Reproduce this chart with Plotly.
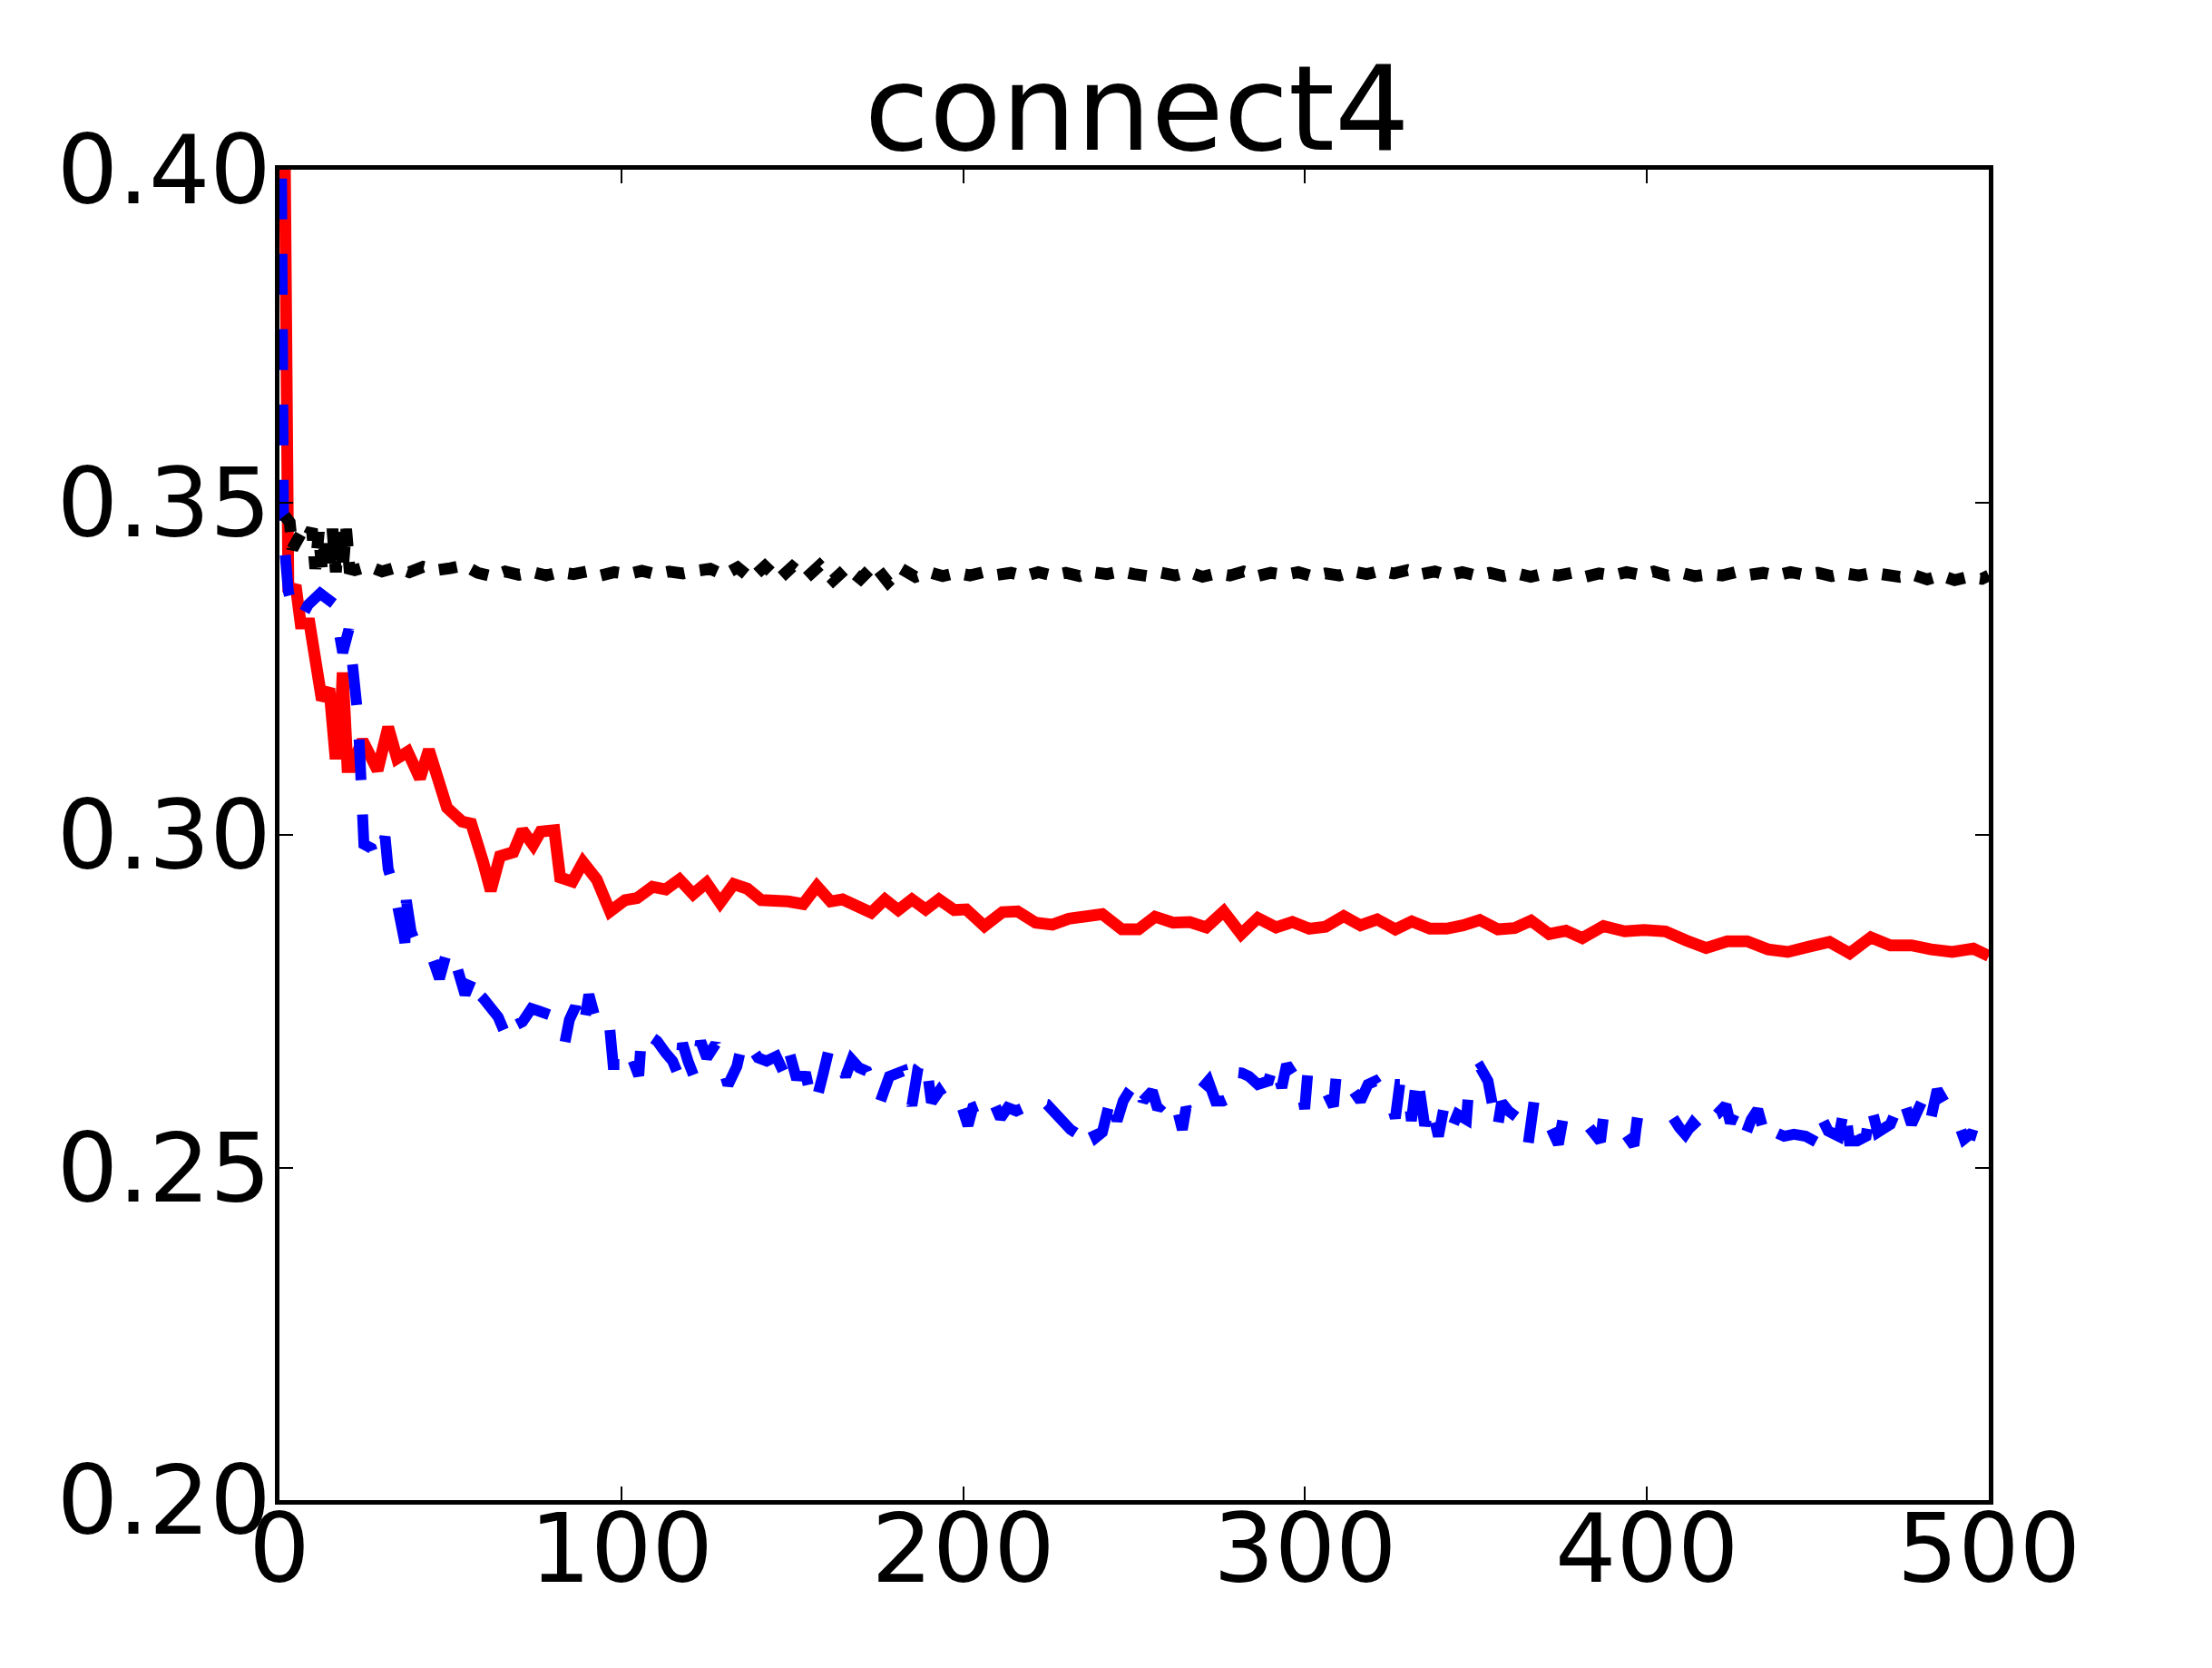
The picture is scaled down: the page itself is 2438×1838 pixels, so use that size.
import plotly.graph_objects as go

# ---- data ----
red_x = [0.8, 1.8, 2.6, 4.9, 6.2, 8.8, 10.6, 12.4, 14.6, 16.3, 17.4, 18.5, 19.9, 21.0, 24.3, 28.7,
         31.8, 34.4, 37.5, 41.1, 43.7, 49.0, 53.4, 56.1, 59.6, 61.8, 64.5, 68.4, 71.1, 74.2, 76.4,
         80.4, 82.1, 85.7, 88.8, 92.8, 96.7, 101.1, 104.6, 109.1, 113.0, 117.0, 121.0, 124.9, 128.9,
         132.9, 136.9, 140.9, 148.8, 153.2, 157.2, 161.2, 164.7, 169.1, 173.1, 177.1, 181.0, 185.0,
         189.0, 192.9, 197.4, 200.9, 206.2, 211.5, 215.9, 221.2, 226.1, 230.9, 236.2, 240.7, 246.4,
         251.3, 256.1, 261.4, 266.3, 271.1, 276.2, 281.3, 286.2, 291.5, 296.3, 301.2, 306.0, 311.3,
         316.2, 321.1, 326.4, 331.2, 336.5, 341.4, 346.2, 351.1, 356.4, 361.3, 366.1, 371.4, 376.3,
         381.1, 387.3, 393.5, 399.2, 405.4, 411.6, 417.3, 423.5, 429.3, 435.4, 441.2, 447.4, 453.4,
         459.3, 465.5, 471.2, 477.4, 483.1, 489.3, 495.5, 500.0]
red_y = [0.4500, 0.3406, 0.3372, 0.3369, 0.3318, 0.3318, 0.3257, 0.3203, 0.3220, 0.3122, 0.3122,
         0.3244, 0.3102, 0.3102, 0.3142, 0.3097, 0.3162, 0.3115, 0.3125, 0.3085, 0.3128, 0.3041,
         0.3020, 0.3017, 0.2959, 0.2916, 0.2968, 0.2974, 0.3007, 0.2985, 0.3005, 0.3007, 0.2936,
         0.2930, 0.2959, 0.2933, 0.2885, 0.2902, 0.2905, 0.2922, 0.2918, 0.2933, 0.2911, 0.2928,
         0.2898, 0.2926, 0.2919, 0.2902, 0.2900, 0.2896, 0.2923, 0.2900, 0.2903, 0.2890, 0.2883,
         0.2903, 0.2887, 0.2903, 0.2888, 0.2903, 0.2887, 0.2888, 0.2863, 0.2884, 0.2885, 0.2868,
         0.2865, 0.2874, 0.2880, 0.2881, 0.2858, 0.2858, 0.2877, 0.2868, 0.2869, 0.2861, 0.2885,
         0.2851, 0.2875, 0.2861, 0.2869, 0.2859, 0.2862, 0.2878, 0.2864, 0.2873, 0.2858, 0.2870,
         0.2859, 0.2859, 0.2864, 0.2872, 0.2858, 0.2860, 0.2871, 0.2851, 0.2856, 0.2845, 0.2863,
         0.2855, 0.2857, 0.2855, 0.2841, 0.2830, 0.2840, 0.2840, 0.2828, 0.2824, 0.2832, 0.2839,
         0.2822, 0.2846, 0.2834, 0.2834, 0.2828, 0.2824, 0.2829, 0.2818]

blue_x = [0.5, 0.8, 1.2, 2.6, 4.0, 6.2, 8.4, 11.9, 14.0, 16.3, 17.2, 18.5, 20.3, 21.6, 23.0, 23.7,
          24.3, 24.7, 26.9, 28.3, 30.9, 31.8, 33.5, 35.0, 36.7, 37.1, 38.5, 40.0, 41.9, 44.0, 46.8,
          49.0, 50.5, 51.7, 54.3, 57.0, 57.5, 59.5, 62.0, 64.0, 67.1, 68.4, 71.1, 73.7, 76.0, 78.5,
          80.8, 83.5, 84.8, 86.6, 87.5, 89.0, 90.5, 92.5, 94.5, 96.3, 97.6, 100.3, 102.0, 103.5,
          105.1, 106.0, 108.2, 110.5, 113.0, 115.0, 117.0, 117.9, 119.5, 121.4, 123.2, 125.0, 127.6,
          129.8, 131.2, 133.8, 135.6, 138.2, 140.0, 142.5, 145.3, 148.4, 149.3, 151.0, 154.1, 155.9,
          157.5, 159.0, 160.8, 163.0, 165.6, 167.4, 169.5, 171.8, 175.7, 178.4, 180.5, 182.4, 185.0,
          186.8, 189.0, 190.7, 193.0, 194.8, 196.5, 199.2, 201.4, 202.8, 204.3, 206.1, 208.7, 210.9,
          213.0, 215.5, 217.7, 219.5, 222.1, 224.5, 227.0, 229.5, 231.4, 233.5, 235.9, 237.2, 238.8,
          240.7, 243.4, 245.0, 246.8, 248.6, 251.3, 252.6, 255.3, 256.9, 258.8, 260.9, 262.5, 264.1,
          265.2, 266.3, 267.7, 269.5, 271.7, 273.8, 276.0, 278.2, 279.6, 281.5, 283.6, 286.2, 289.3,
          291.0, 293.2, 294.6, 296.5, 298.1, 299.9, 300.8, 303.0, 305.2, 308.3, 309.2, 311.5, 313.5,
          316.2, 318.4, 320.5, 322.5, 324.5, 326.4, 327.7, 330.0, 331.1, 332.8, 335.0, 336.8, 339.0,
          340.8, 343.0, 344.6, 347.2, 348.2, 351.3, 353.5, 356.2, 357.5, 359.5, 362.1, 365.2, 367.0,
          369.0, 371.0, 374.1, 375.4, 377.5, 380.0, 382.0, 383.8, 386.4, 387.3, 389.1, 391.5, 394.0,
          396.2, 397.0, 399.5, 401.5, 404.5, 407.6, 409.5, 411.2, 413.4, 416.5, 418.2, 420.5, 423.1,
          424.4, 426.2, 428.9, 430.5, 432.4, 435.1, 437.5, 440.1, 443.0, 446.4, 450.0, 450.9, 453.0,
          456.1, 457.9, 459.2, 461.5, 464.1, 465.5, 467.5, 469.5, 471.2, 474.7, 477.4, 480.5, 482.7,
          484.9, 486.5, 488.5, 490.2, 492.8, 494.5, 496.4]
blue_y = [0.4100, 0.3700, 0.3450, 0.3366, 0.3339, 0.3325, 0.3346, 0.3363, 0.3355, 0.3346, 0.3312,
          0.3274, 0.3309, 0.3254, 0.3176, 0.3100, 0.3048, 0.2986, 0.2980, 0.2960, 0.2997, 0.2949,
          0.2920, 0.2880, 0.2838, 0.2902, 0.2855, 0.2835, 0.2827, 0.2826, 0.2784, 0.2825, 0.2800,
          0.2805, 0.2760, 0.2793, 0.2765, 0.2755, 0.2740, 0.2726, 0.2688, 0.2712, 0.2719, 0.2739,
          0.2735, 0.2728, 0.2726, 0.2688, 0.2722, 0.2742, 0.2710, 0.2712, 0.2760, 0.2722, 0.2720,
          0.2727, 0.2655, 0.2655, 0.2680, 0.2660, 0.2638, 0.2706, 0.2700, 0.2690, 0.2672, 0.2660,
          0.2635, 0.2687, 0.2660, 0.2635, 0.2690, 0.2665, 0.2686, 0.2638, 0.2624, 0.2652, 0.2693,
          0.2679, 0.2665, 0.2660, 0.2667, 0.2633, 0.2670, 0.2638, 0.2637, 0.2594, 0.2610, 0.2640,
          0.2679, 0.2668, 0.2637, 0.2662, 0.2650, 0.2645, 0.2598, 0.2637, 0.2640, 0.2645, 0.2593,
          0.2650, 0.2665, 0.2598, 0.2615, 0.2600, 0.2588, 0.2598, 0.2563, 0.2590, 0.2593, 0.2580,
          0.2601, 0.2574, 0.2590, 0.2585, 0.2590, 0.2580, 0.2598, 0.2595, 0.2580, 0.2565, 0.2557,
          0.2550, 0.2540, 0.2563, 0.2545, 0.2553, 0.2610, 0.2570, 0.2600, 0.2615, 0.2633, 0.2600,
          0.2615, 0.2588, 0.2598, 0.2610, 0.2590, 0.2557, 0.2590, 0.2580, 0.2606, 0.2615, 0.2630,
          0.2600, 0.2600, 0.2605, 0.2643, 0.2642, 0.2637, 0.2625, 0.2630, 0.2659, 0.2620, 0.2655,
          0.2640, 0.2640, 0.2588, 0.2643, 0.2640, 0.2625, 0.2592, 0.2643, 0.2640, 0.2620, 0.2600,
          0.2625, 0.2630, 0.2615, 0.2610, 0.2574, 0.2625, 0.2625, 0.2570, 0.2641, 0.2563, 0.2595,
          0.2547, 0.2595, 0.2560, 0.2580, 0.2572, 0.2640, 0.2650, 0.2630, 0.2557, 0.2598, 0.2585,
          0.2575, 0.2533, 0.2600, 0.2590, 0.2570, 0.2535, 0.2572, 0.2560, 0.2565, 0.2568, 0.2556,
          0.2539, 0.2577, 0.2562, 0.2560, 0.2549, 0.2533, 0.2567, 0.2565, 0.2560, 0.2570, 0.2575,
          0.2560, 0.2550, 0.2567, 0.2550, 0.2575, 0.2580, 0.2594, 0.2567, 0.2587, 0.2550, 0.2572,
          0.2587, 0.2537, 0.2553, 0.2547, 0.2550, 0.2547, 0.2537, 0.2577, 0.2555, 0.2547, 0.2594,
          0.2540, 0.2540, 0.2547, 0.2594, 0.2553, 0.2560, 0.2565, 0.2607, 0.2565, 0.2600, 0.2565,
          0.2617, 0.2600, 0.2585, 0.2580, 0.2543, 0.2550, 0.2547]

black_x = [1.5, 3.0, 3.8, 5.0, 6.5, 8.0, 9.5, 10.5, 11.5, 12.5, 13.5, 14.5, 15.5, 16.5, 17.5, 18.5,
           19.5, 20.5, 22, 26, 30, 34, 38, 42, 46, 50, 54, 58, 62, 66, 70, 74, 78, 82, 86, 90, 94,
           98, 102, 106, 110, 114, 118, 122, 126, 130, 134, 138, 142, 146, 150, 154, 158, 162, 166,
           170, 174, 178, 182, 186, 190, 194, 198, 202, 206, 210, 214, 218, 222, 226, 230, 234, 238,
           242, 246, 250, 254, 258, 262, 266, 270, 274, 278, 282, 286, 290, 294, 298, 302, 306, 310,
           314, 318, 322, 326, 330, 334, 338, 342, 346, 350, 354, 358, 362, 366, 370, 374, 378, 382,
           386, 390, 394, 398, 402, 406, 410, 414, 418, 422, 426, 430, 434, 438, 442, 446, 450, 454,
           458, 462, 466, 470, 474, 478, 482, 486, 490, 494, 498, 500]
black_y = [0.3480, 0.3470, 0.3430, 0.3440, 0.3455, 0.3445, 0.3460, 0.3400, 0.3455, 0.3395, 0.3450,
           0.3398, 0.3460, 0.3395, 0.3458, 0.3398, 0.3460, 0.3400, 0.3398, 0.3404, 0.3396, 0.3402,
           0.3395, 0.3403, 0.3398, 0.3401, 0.3405, 0.3394, 0.3389, 0.3396, 0.3391, 0.3395, 0.3390,
           0.3395, 0.3392, 0.3396, 0.3390, 0.3395, 0.3392, 0.3397, 0.3392, 0.3396, 0.3393, 0.3397,
           0.3400, 0.3391, 0.3402, 0.3385, 0.3404, 0.3384, 0.3403, 0.3386, 0.3405, 0.3383, 0.3402,
           0.3385, 0.3406, 0.3380, 0.3400, 0.3388, 0.3395, 0.3389, 0.3394, 0.3390, 0.3395, 0.3391,
           0.3394, 0.3389, 0.3395, 0.3390, 0.3394, 0.3389, 0.3395, 0.3392, 0.3396, 0.3392, 0.3389,
           0.3394, 0.3390, 0.3395, 0.3388, 0.3393, 0.3390, 0.3396, 0.3389, 0.3394, 0.3391, 0.3395,
           0.3389, 0.3393, 0.3390, 0.3396, 0.3392, 0.3397, 0.3393, 0.3398, 0.3392, 0.3396, 0.3390,
           0.3395, 0.3390, 0.3394, 0.3389, 0.3393, 0.3388, 0.3393, 0.3390, 0.3394, 0.3388, 0.3393,
           0.3390, 0.3395, 0.3391, 0.3396, 0.3390, 0.3394, 0.3389, 0.3392, 0.3390, 0.3395, 0.3391,
           0.3394, 0.3390, 0.3395, 0.3391, 0.3394, 0.3389, 0.3393, 0.3390, 0.3394, 0.3392, 0.3388,
           0.3391, 0.3384, 0.3390, 0.3383, 0.3388, 0.3385, 0.3390]

title_text = "connect4"
x_ticks = [0, 100, 200, 300, 400, 500]
y_ticks = [0.20, 0.25, 0.30, 0.35, 0.40]

FONT = "DejaVu Sans"

fig = go.Figure()
fig.add_trace(go.Scatter(x=red_x, y=red_y, mode="lines",
                         line=dict(color="#ff0000", width=13), showlegend=False))
fig.add_trace(go.Scatter(x=blue_x, y=blue_y, mode="lines",
                         line=dict(color="#0000ff", width=12, dash="45px,38px"), showlegend=False))
fig.add_trace(go.Scatter(x=black_x, y=black_y, mode="lines",
                         line=dict(color="#000000", width=13, dash="20px,17px"), showlegend=False))

axis_common = dict(showgrid=False, zeroline=False, showline=True, linecolor="black", linewidth=5,
                   mirror="allticks", ticks="inside", ticklen=15, tickwidth=2, tickcolor="black",
                   tickfont=dict(family=FONT, size=106, color="black"))

fig.update_xaxes(range=[0, 500], tickvals=x_ticks, ticktext=[str(v) for v in x_ticks],
                 ticklabelstandoff=-42, **axis_common)
fig.update_yaxes(range=[0.2, 0.4], tickvals=y_ticks, ticktext=[f"{v:.2f}" for v in y_ticks],
                 ticklabelstandoff=-17, **axis_common)

fig.update_layout(
    width=2438, height=1838,
    margin=dict(l=300, r=254, t=179, b=193, pad=0),
    paper_bgcolor="white", plot_bgcolor="white",
    title=dict(text=title_text, x=0.5108, xanchor="center", yref="container",
               y=1 - 111 / 1838, yanchor="middle",
               font=dict(family=FONT, size=130, color="black")),
    showlegend=False,
)

fig.write_html("out.html")
